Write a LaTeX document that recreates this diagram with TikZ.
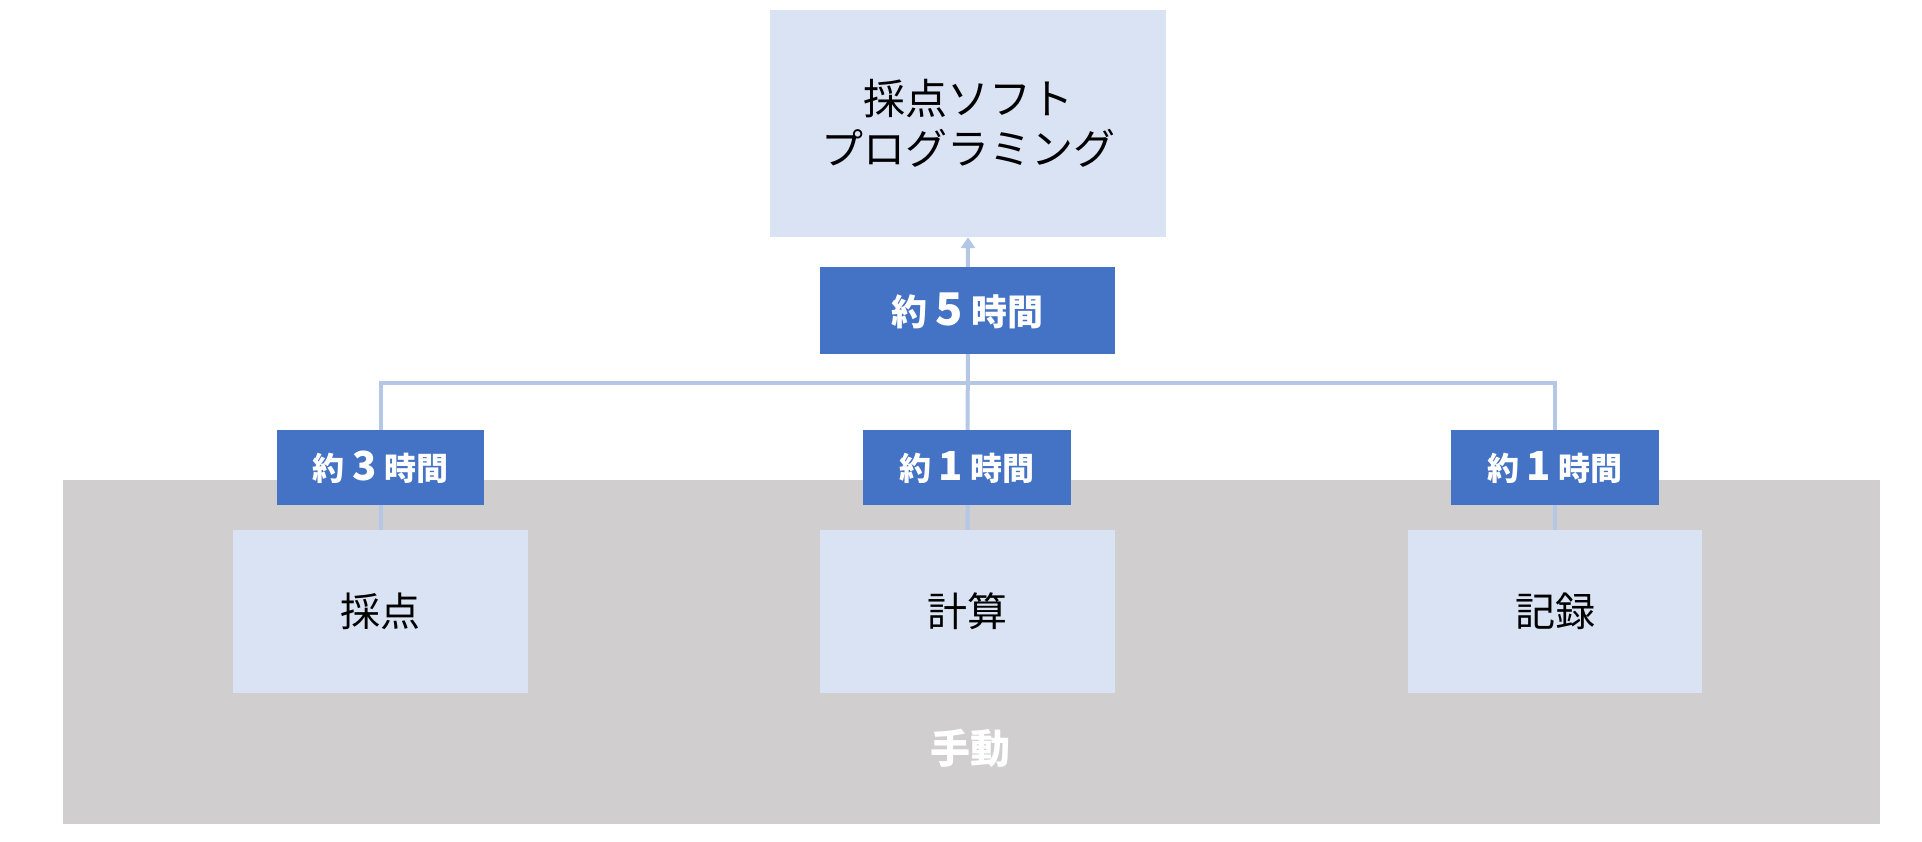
\documentclass[tikz,border=0pt]{standalone}
\usepackage{fontspec}
\setmainfont{Noto Sans CJK JP}
\usetikzlibrary{arrows.meta}
\definecolor{boxfill}{HTML}{DAE3F3}
\definecolor{tagfill}{HTML}{4472C4}
\definecolor{connc}{HTML}{B4C7E7}
\definecolor{bgfill}{HTML}{D0CECE}
\newcommand{\bigdigit}[1]{{\fontsize{1.25\dimexpr\csname f@size\endcsname pt\relax}{10}\selectfont #1}}
\tikzset{
  taskbox/.style={fill=boxfill, draw=none, inner sep=0pt, align=center, font=\fontsize{40}{48}\selectfont, text=black},
  tagbox/.style={fill=tagfill, draw=none, inner sep=0pt, text=white, font=\bfseries\fontsize{32}{38}\selectfont},
  conn/.style={draw=connc, line width=4pt},
}
\begin{document}
\begin{tikzpicture}[x=1pt,y=-1pt]
\useasboundingbox (0,0) rectangle (1922,842);
% background area
\node[fill=bgfill, draw=none, inner sep=0pt, minimum width=1817pt, minimum height=344pt] (bg) at (971.5,652) {};
\node[text=white, font=\bfseries\fontsize{40}{48}\selectfont] (manual) at (970,748) {手動};
% task boxes
\node[taskbox, font=\fontsize{42}{50}\selectfont, minimum width=396pt, minimum height=227pt] (top) at (968,123.5) {採点ソフト\\プログラミング};
\node[taskbox, minimum width=295pt, minimum height=163pt] (c1) at (380.5,611.5) {採点};
\node[taskbox, minimum width=295pt, minimum height=163pt] (c2) at (967.5,611.5) {計算};
\node[taskbox, minimum width=294pt, minimum height=163pt] (c3) at (1555,611.5) {記録};
\coordinate (bar) at (967,383);
% connectors
\draw[conn] (c1.north) -- (c1.north |- bar) -- (c3.north |- bar) -- (c3.north);
\draw[conn, -{Triangle[width=14pt,length=11pt]}] (c2.north) -- (top.south);
% time tags
\node[tagbox, font=\bfseries\fontsize{36}{42}\selectfont, minimum width=295pt, minimum height=87pt] (t5) at (967.5,310.5) {約 \bigdigit{5} 時間};
\node[tagbox, minimum width=207pt, minimum height=75pt] (t1) at (380.5,467.5) {約 \bigdigit{3} 時間};
\node[tagbox, minimum width=208pt, minimum height=75pt] (t2) at (967,467.5) {約 \bigdigit{1} 時間};
\node[tagbox, minimum width=208pt, minimum height=75pt] (t3) at (1555,467.5) {約 \bigdigit{1} 時間};
\end{tikzpicture}
\end{document}
